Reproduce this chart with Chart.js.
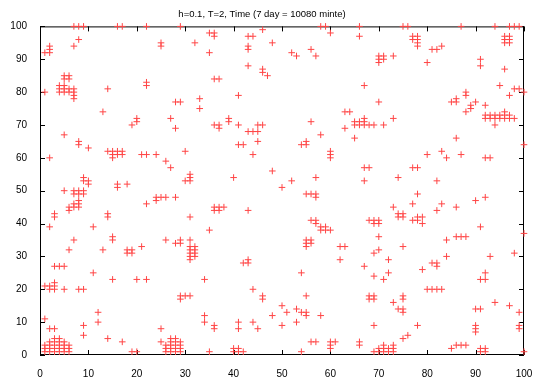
<!DOCTYPE html>
<html>
<head>
<meta charset="utf-8">
<script src="https://cdn.jsdelivr.net/npm/chart.js@4/dist/chart.umd.min.js"></script>
<style>
  body { margin: 0; background: #fff; }
  canvas { display: block; }
</style>
</head>
<body>
<canvas id="grid" width="553" height="386"></canvas>
<script>
// title + ticks
var titleText = "h=0.1, T=2, Time (7 day = 10080 minte)";
var xTicks = [0, 10, 20, 30, 40, 50, 60, 70, 80, 90, 100];
var yTicks = [0, 10, 20, 30, 40, 50, 60, 70, 80, 90, 100];

// occupied cells, [x, y]
var topRow = [[7,100],[8,100],[9,100],[16,100],[17,100],[22,100],[29,100],[46,99],[58,100],[59,100],
  [66,100],[75,100],[76,100],[87,100],[94,100],[97,100],[98,100],[99,100]];

var upperLeft = [[1,92],[2,92],[2,93],[2,94],[7,94],[8,96],[25,94],[25,95],
  [5,85],[6,85],[5,84],[6,84],[4,82],[5,82],[4,81],[5,81],[4,80],[5,80],[6,81],[7,81],[6,80],[7,80],[7,79],[7,78],
  [1,80],[14,81],[13,74],[22,83],[22,82],[19,70],[20,71],[20,72],[5,67],
  [35,98],[36,98],[36,97],[43,97],[44,97],[32,95],[43,94],[43,93],[48,95],[35,92],[43,88],[46,87],[46,86],[47,85],
  [36,84],[37,84],[41,79],[28,77],[29,77],[33,78],[33,75],[27,72],[28,69],[39,72],[39,71],[36,70],[37,70],[37,69],
  [41,70],[45,70],[46,70],[43,68],[44,68],[45,68]];

var upperRight = [[60,98],[66,97],[52,92],[53,91],[56,93],[57,91],[70,91],[71,91],[70,90],[71,90],[70,89],[73,91],
  [67,82],[70,77],[63,74],[64,74],[56,71],[63,69],[65,71],[66,71],[67,72],[67,71],[65,70],[66,70],[67,70],[68,70],
  [69,70],[71,70],[73,72],[58,67],
  [77,97],[78,97],[77,96],[78,96],[78,95],[78,94],[81,93],[82,93],[83,94],[80,89],[96,97],[97,97],[96,96],[97,96],
  [96,95],[97,95],[91,90],[91,88],[96,87],[95,82],[98,81],[99,81],[100,80],[97,79],[88,80],[88,79],[85,77],[86,78],
  [86,77],[90,77],[89,76],[89,75],[88,74],[92,76],
  [92,73],[93,73],[94,73],[95,73],[96,73],[97,73],[92,72],[93,72],[94,72],[95,72],[96,72],[97,72],[98,72],[96,74],[94,70]];

var middleLeft = [[8,65],[8,64],[10,63],[2,60],[14,62],[15,62],[16,62],[17,62],[15,61],[16,61],[17,61],[15,60],
  [21,61],[22,61],[24,61],[9,54],[9,53],[10,53],[10,52],[16,52],[16,51],[18,52],[5,50],[7,50],[8,50],[9,50],[7,49],
  [8,49],[9,49],[8,47],[7,46],[8,46],[6,45],[7,45],[8,45],[6,44],[22,46],[24,48],[24,47],[25,48],[3,43],[3,42],
  [14,43],[14,42],[2,39],[11,39],[7,35],[15,36],[15,35],[21,33],
  [41,64],[42,64],[45,65],[44,61],[30,62],[26,59],[27,57],[31,55],[31,54],[31,53],[30,53],[40,54],[48,56],[50,51],
  [26,48],[28,48],[36,45],[37,45],[38,45],[36,44],[37,44],[43,44],[31,42],[35,38],[26,35],[29,35],[28,34],[29,34],[31,35]];

var middleRight = [[65,66],[54,64],[55,65],[55,64],[60,62],[60,61],[60,60],[67,57],[68,57],[67,53],[74,54],[57,54],
  [52,53],[55,49],[56,49],[57,49],[57,48],[73,45],[74,43],[74,42],[56,41],[57,41],[57,40],[58,39],[58,38],[59,39],
  [59,38],[60,38],[68,41],[69,41],[70,41],[69,40],[70,40],[70,36],[55,35],[56,35],[55,34],[56,34],[62,33],[63,33],
  [86,66],[100,64],[80,61],[83,62],[84,60],[87,61],[92,60],[93,60],[77,57],[78,57],[82,53],[78,49],[77,46],[83,46],
  [90,47],[92,48],[86,45],[82,44],[75,43],[75,42],[77,41],[78,42],[78,41],[79,42],[79,40],[91,39],[100,37],[84,35],
  [86,36],[87,36],[88,36]];

var lowerLeft = [[6,32],[13,32],[18,32],[19,32],[18,31],[19,31],[3,27],[4,27],[5,27],[11,25],[1,21],[2,21],[3,21],
  [2,20],[3,20],[3,22],[5,20],[8,20],[9,20],[15,23],[20,23],[22,23],[12,13],[12,10],[1,11],[2,8],[3,8],[9,9],[9,6],
  [14,5],[17,4],[25,8],[25,4],
  [3,5],[4,5],[2,4],[3,4],[4,4],[5,4],[1,3],[2,3],[3,3],[4,3],[5,3],[6,3],[1,2],[2,2],[3,2],[4,2],[5,2],[6,2],
  [1,1],[2,1],[3,1],[4,1],[5,1],[6,1],[19,1],[20,1],
  [31,33],[32,33],[31,32],[32,32],[31,31],[32,31],[31,30],[32,30],[31,29],[42,28],[43,29],[43,28],[34,23],[44,20],
  [46,18],[46,17],[50,15],[29,18],[29,17],[30,18],[31,18],[34,12],[34,10],[36,9],[36,8],[41,10],[41,8],[44,10],
  [45,8],[48,12],[50,9],
  [27,5],[28,5],[27,4],[28,4],[29,4],[26,3],[27,3],[28,3],[29,3],[26,2],[27,2],[28,2],[29,2],[26,1],[27,1],[28,1],
  [29,1],[35,1],[40,2],[41,2],[40,1],[41,1],[42,1]];

var lowerRight = [[55,33],[62,29],[69,31],[70,32],[72,29],[67,27],[69,24],[71,23],[72,25],[54,25],[55,18],[68,18],
  [69,18],[68,17],[69,17],[73,16],[74,14],[51,13],[53,14],[54,13],[55,13],[55,12],[58,12],[53,10],[69,9],[56,4],
  [57,4],[60,4],[61,4],[60,3],[60,2],[66,4],[66,3],[54,1],
  [69,1],[70,1],[71,1],[72,1],[73,1],[70,2],[71,2],[72,2],[73,2],[71,3],[73,3],[75,5],
  [75,33],[84,30],[93,30],[98,31],[79,26],[81,28],[82,28],[82,27],[92,25],[91,23],[92,23],[80,20],[81,20],[82,20],
  [83,20],[75,18],[75,17],[94,16],[97,15],[75,14],[75,13],[90,14],[91,14],[99,13],[78,9],[90,9],[90,8],[90,7],
  [99,9],[99,8],[76,6],[85,2],[86,3],[87,3],[88,3],[91,2],[92,2],[91,1],[92,1],[100,1]];

function toPoints(list) {
	var result = [];
	for (var i = 0; i < list.length; i++) {
		result.push({ x: list[i][0], y: list[i][1] });
	}
	return result;
}

var allCells = [].concat(topRow, upperLeft, upperRight, middleLeft, middleRight, lowerLeft, lowerRight);

// gnuplot-like box with inward ticks on all four sides
var frame = {
	id: 'frame',
	beforeDatasetsDraw: function(chart) {
		var ctx = chart.ctx, a = chart.chartArea;
		var sx = chart.scales.x, sy = chart.scales.y;
		ctx.save();
		ctx.strokeStyle = '#000';
		ctx.lineWidth = 1;
		ctx.strokeRect(a.left + 0.5, a.top + 0.5, a.right - a.left - 1, a.bottom - a.top - 1);
		ctx.beginPath();
		xTicks.forEach(function(v) {
			var p = Math.round(sx.getPixelForValue(v)) + 0.5;
			ctx.moveTo(p, a.bottom); ctx.lineTo(p, a.bottom - 5);
			ctx.moveTo(p, a.top); ctx.lineTo(p, a.top + 5);
		});
		yTicks.forEach(function(v) {
			var p = Math.round(sy.getPixelForValue(v)) + 0.5;
			ctx.moveTo(a.left, p); ctx.lineTo(a.left + 5, p);
			ctx.moveTo(a.right, p); ctx.lineTo(a.right - 5, p);
		});
		ctx.stroke();
		ctx.restore();
	}
};

var ctx = document.getElementById("grid").getContext("2d");
var scatter = new Chart(ctx, {
	type: 'scatter',
	data: {
		datasets: [{
			data: toPoints(allCells),
			pointStyle: 'cross',
			pointRadius: 3.3,
			pointHoverRadius: 3.3,
			borderWidth: 1,
			borderColor: '#ff4545',
			backgroundColor: '#ff4545',
			clip: false
		}]
	},
	options: {
		responsive: false,
		animation: false,
		events: [],
		layout: { padding: { left: 0, right: 29, top: 0, bottom: 0 } },
		plugins: {
			legend: { display: false },
			tooltip: { enabled: false },
			title: {
				display: true,
				text: titleText,
				color: '#000',
				font: { family: 'Liberation Sans', size: 9.5, weight: 'normal' },
				padding: { top: 9, bottom: 6 }
			}
		},
		scales: {
			x: {
				type: 'linear', min: 0, max: 100,
				grid: { display: false }, border: { display: false },
				afterBuildTicks: function(s) { s.ticks = xTicks.map(function(v) { return { value: v }; }); },
				afterFit: function(s) { s.height = 31; },
				ticks: { color: '#000', padding: 5, maxRotation: 0, font: { family: 'Liberation Sans', size: 10 } }
			},
			y: {
				type: 'linear', min: 0, max: 100,
				grid: { display: false }, border: { display: false },
				afterBuildTicks: function(s) { s.ticks = yTicks.map(function(v) { return { value: v }; }); },
				afterFit: function(s) { s.width = 40; },
				ticks: { color: '#000', padding: 5, font: { family: 'Liberation Sans', size: 10 } }
			}
		}
	},
	plugins: [frame]
});
</script>
</body>
</html>
